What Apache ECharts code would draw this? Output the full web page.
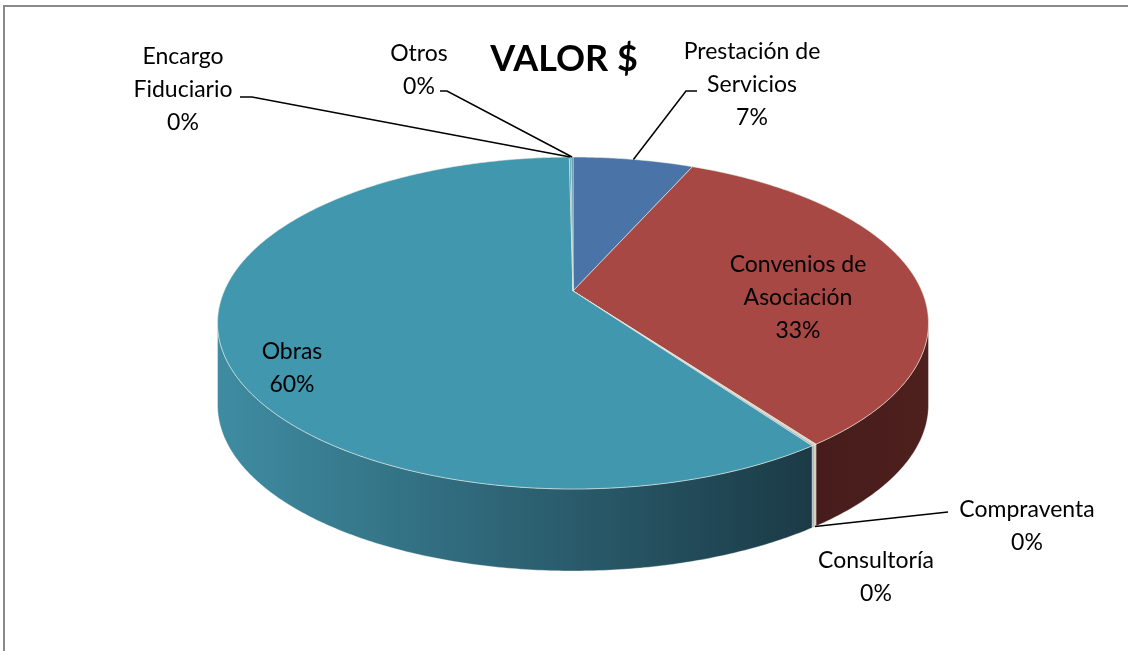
<!DOCTYPE html>
<html>
<head>
<meta charset="utf-8">
<script src="https://cdn.jsdelivr.net/npm/echarts@6/dist/echarts.min.js"></script>
<style>
  html, body { margin: 0; padding: 0; background: #fff; }
  #chart { width: 1128px; height: 651px; }
</style>
</head>
<body>
<div id="chart"></div>
<script>
// data
var categories = ['Prestación de\nServicios', 'Convenios de\nAsociación', 'Compraventa', 'Consultoría', 'Obras', 'Encargo\nFiduciario', 'Otros'];
var values = [6.6, 33.4, 0.1, 0.1, 59.6, 0.1, 0.1];

// colours: top face, side from, side to
var topColors = ['#4a74a8', '#a84844', '#c8d6a4', '#b7aacb', '#4197ae', '#4a9bb0', '#4a85a8'];
var sideColors = [
  ['#2a4566', '#2a4566'],
  ['#4e201e', '#461c1a'],
  ['#b9c6a0', '#b9c6a0'],
  ['#aaa0bb', '#aaa0bb'],
  ['#1b3a46', '#3f8ca2'],
  ['#3f8ca2', '#3f8ca2'],
  ['#3f8ca2', '#3f8ca2']
];

// label placement (pixels) and leader lines: [start, elbow]
var labelLayout = [
  { x: 752, y: 85, line: [[697, 91], [686, 91]], side: false },
  { x: 798, y: 298 },
  { x: 1027, y: 526, line: [[948, 512]], side: true },
  { x: 876, y: 577 },
  { x: 292, y: 368 },
  { x: 183, y: 90, line: [[240, 97], [252, 97]], side: false },
  { x: 419, y: 70, line: [[440, 91], [447, 91]], side: false }
];

// pie geometry (perspective ellipse)
var VX = 573, VY = 291, RA = 348.8, RB = 159.8, K = 0.1928, DEPTH = 82;
var PHI_L = Math.acos(-K), PHI_R = 2 * Math.PI - Math.acos(-K);

function project(phi, down) {
  var d = 1 + K * Math.cos(phi);
  return [VX + RA * Math.sin(phi) / d, VY - RB * Math.cos(phi) / d + (down ? DEPTH : 0)];
}

var total = values.reduce(function (a, b) { return a + b; }, 0);
var cum = [];
values.reduce(function (acc, v, i) { cum[i] = acc; return acc + v; }, 0);

var FONT = '23px Lato, "Open Sans", sans-serif';

function renderItem(params, api) {
  var i = params.dataIndex;
  var start = cum[i] / total * Math.PI * 2;
  var end = (cum[i] + values[i]) / total * Math.PI * 2;
  var children = [];
  var n, s;

  // outer wall (front half only)
  var s0 = Math.max(start, PHI_L), s1 = Math.min(end, PHI_R);
  if (s1 > s0) {
    var wall = [];
    n = Math.max(2, Math.ceil((s1 - s0) / 0.01));
    for (s = 0; s <= n; s++) wall.push(project(s0 + (s1 - s0) * s / n, false));
    for (s = n; s >= 0; s--) wall.push(project(s0 + (s1 - s0) * s / n, true));
    children.push({
      type: 'polygon',
      shape: { points: wall },
      style: {
        fill: {
          type: 'linear', x: 0, y: 0, x2: 1, y2: 0,
          colorStops: [{ offset: 0, color: sideColors[i][1] }, { offset: 1, color: sideColors[i][0] }]
        },
        stroke: 'rgba(255,255,255,0.35)', lineWidth: 1
      },
      z2: 1
    });
  }

  // top face
  var top = [[VX, VY]];
  n = Math.max(2, Math.ceil((end - start) / 0.01));
  for (s = 0; s <= n; s++) top.push(project(start + (end - start) * s / n, false));
  children.push({
    type: 'polygon',
    shape: { points: top },
    style: { fill: topColors[i], stroke: 'rgba(235,240,230,0.55)', lineWidth: 1 },
    z2: 2
  });

  // label
  var lay = labelLayout[i];
  children.push({
    type: 'text',
    x: lay.x, y: lay.y,
    style: {
      text: categories[i] + '\n' + Math.round(values[i] / total * 100) + '%',
      align: 'center', verticalAlign: 'middle',
      font: FONT, lineHeight: 33, fill: '#000'
    },
    z2: 10
  });
  if (lay.line) {
    var anchor = project((start + end) / 2, lay.side);
    children.push({
      type: 'polyline',
      shape: { points: lay.line.concat([anchor]) },
      style: { stroke: '#000', lineWidth: 1.5, fill: null },
      z2: 9
    });
  }
  return { type: 'group', children: children };
}

var myChart = echarts.init(document.getElementById('chart'));

var option = {
  animation: false,
  title: {
    text: 'VALOR $',
    left: 'center',
    top: 36,
    textStyle: { fontFamily: 'Lato, "Open Sans", sans-serif', fontWeight: 'bold', fontSize: 36, color: '#000' }
  },
  graphic: [{
    type: 'rect',
    shape: { x: 4, y: 6, width: 1200, height: 700 },
    style: { fill: null, stroke: '#8a8a8a', lineWidth: 2 },
    silent: true
  }],
  series: [{
    type: 'custom',
    coordinateSystem: 'none',
    renderItem: renderItem,
    data: values.map(function (v, i) { return { value: v, name: categories[i] }; })
  }]
};

myChart.setOption(option);
window.addEventListener('resize', function () {
  myChart.resize();
});
</script>
</body>
</html>
